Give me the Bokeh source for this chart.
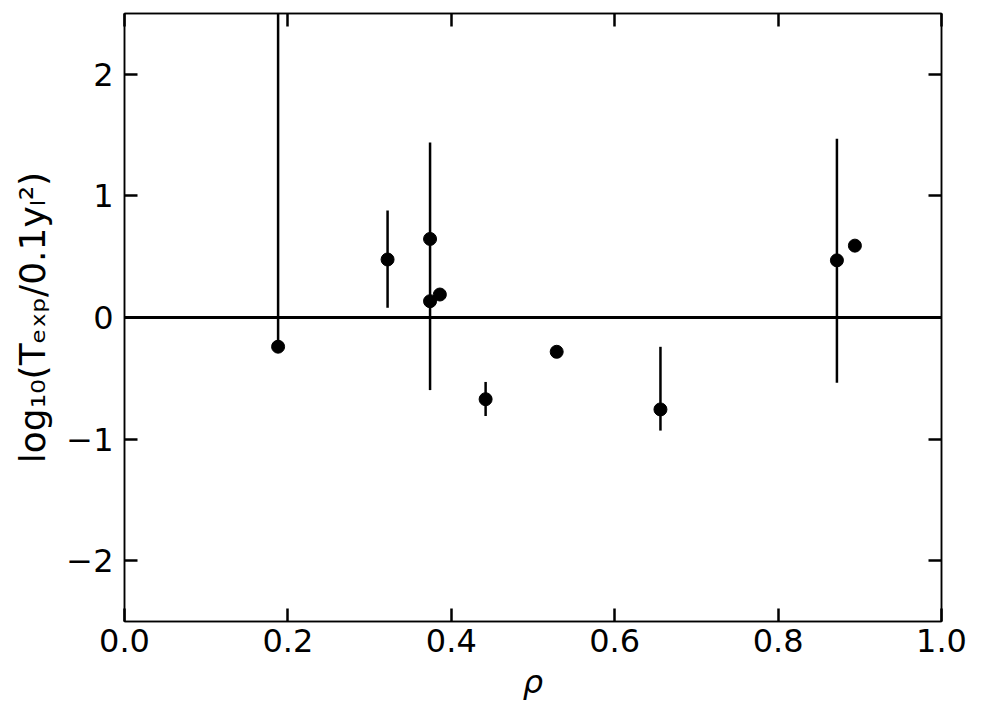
from bokeh.plotting import figure
from bokeh.models import FixedTicker, LinearAxis, Range1d, Span
from bokeh.embed import file_html
from bokeh.resources import INLINE

# data
rho = [0.188, 0.322, 0.374, 0.374, 0.386, 0.442, 0.529, 0.656, 0.872, 0.894]
logT = [-0.24, 0.477, 0.646, 0.134, 0.189, -0.672, -0.282, -0.756, 0.470, 0.591]

err_x = [0.188, 0.322, 0.374, 0.442, 0.656, 0.872]
err_lo = [-0.24, 0.08, -0.597, -0.81, -0.93, -0.537]
err_hi = [3.0, 0.879, 1.44, -0.53, -0.241, 1.47]

x_ticks = [0.0, 0.2, 0.4, 0.6, 0.8, 1.0]
x_tick_labels = ["0.0", "0.2", "0.4", "0.6", "0.8", "1.0"]
y_ticks = [-2, -1, 0, 1, 2]
y_tick_labels = ["\u22122", "\u22121", "0", "1", "2"]

FONT = "DejaVu Sans"

p = figure(width=973, height=709, output_backend="svg", toolbar_location=None,
           x_range=Range1d(0, 1), y_range=Range1d(-2.5, 2.5),
           min_border_left=124, min_border_right=32, min_border_top=13, min_border_bottom=88)
p.grid.visible = False
p.outline_line_color = "black"
p.outline_line_width = 1.5
p.background_fill_color = "white"
p.border_fill_color = "white"

def style(ax, ticks, labels, show_labels=True):
    ax.ticker = FixedTicker(ticks=ticks)
    ax.major_label_overrides = {t: l for t, l in zip(ticks, labels)}
    ax.major_tick_in = 13
    ax.major_tick_out = 0
    ax.major_tick_line_width = 2.5
    ax.major_tick_line_color = "black"
    ax.minor_tick_line_color = None
    ax.axis_line_color = "black"
    ax.axis_line_width = 1.5
    ax.major_label_text_font = FONT
    ax.major_label_text_font_size = "32px" if show_labels else "0px"
    ax.major_label_text_color = "black"
    ax.major_label_standoff = 7 if show_labels else 0

style(p.xaxis[0], x_ticks, x_tick_labels)
style(p.yaxis[0], y_ticks, y_tick_labels)
p.yaxis[0].major_label_standoff = 11
p.xaxis[0].axis_label = "\u03c1"
p.xaxis[0].axis_label_text_font = FONT
p.xaxis[0].axis_label_text_font_size = "32px"
p.xaxis[0].axis_label_text_font_style = "italic"
p.xaxis[0].axis_label_text_color = "black"
p.xaxis[0].axis_label_standoff = 8
p.yaxis[0].axis_label = "log\u2081\u2080(T\u2091\u2093\u209a/0.1y\u2097\u00b2)"
p.yaxis[0].axis_label_text_font = FONT
p.yaxis[0].axis_label_text_font_size = "36px"
p.yaxis[0].axis_label_text_font_style = "normal"
p.yaxis[0].axis_label_text_color = "black"
p.yaxis[0].axis_label_standoff = 10

top = LinearAxis()
style(top, x_ticks, ["" for _ in x_ticks], show_labels=False)
p.add_layout(top, "above")
right = LinearAxis()
style(right, y_ticks, ["" for _ in y_ticks], show_labels=False)
p.add_layout(right, "right")

p.add_layout(Span(location=0, dimension="width", line_color="black", line_width=3))

p.segment(x0=err_x, y0=err_lo, x1=err_x, y1=err_hi, line_color="black", line_width=2.5)
p.scatter(rho, logT, size=13, color="black")

open("out.html", "w").write(file_html(p, INLINE))
